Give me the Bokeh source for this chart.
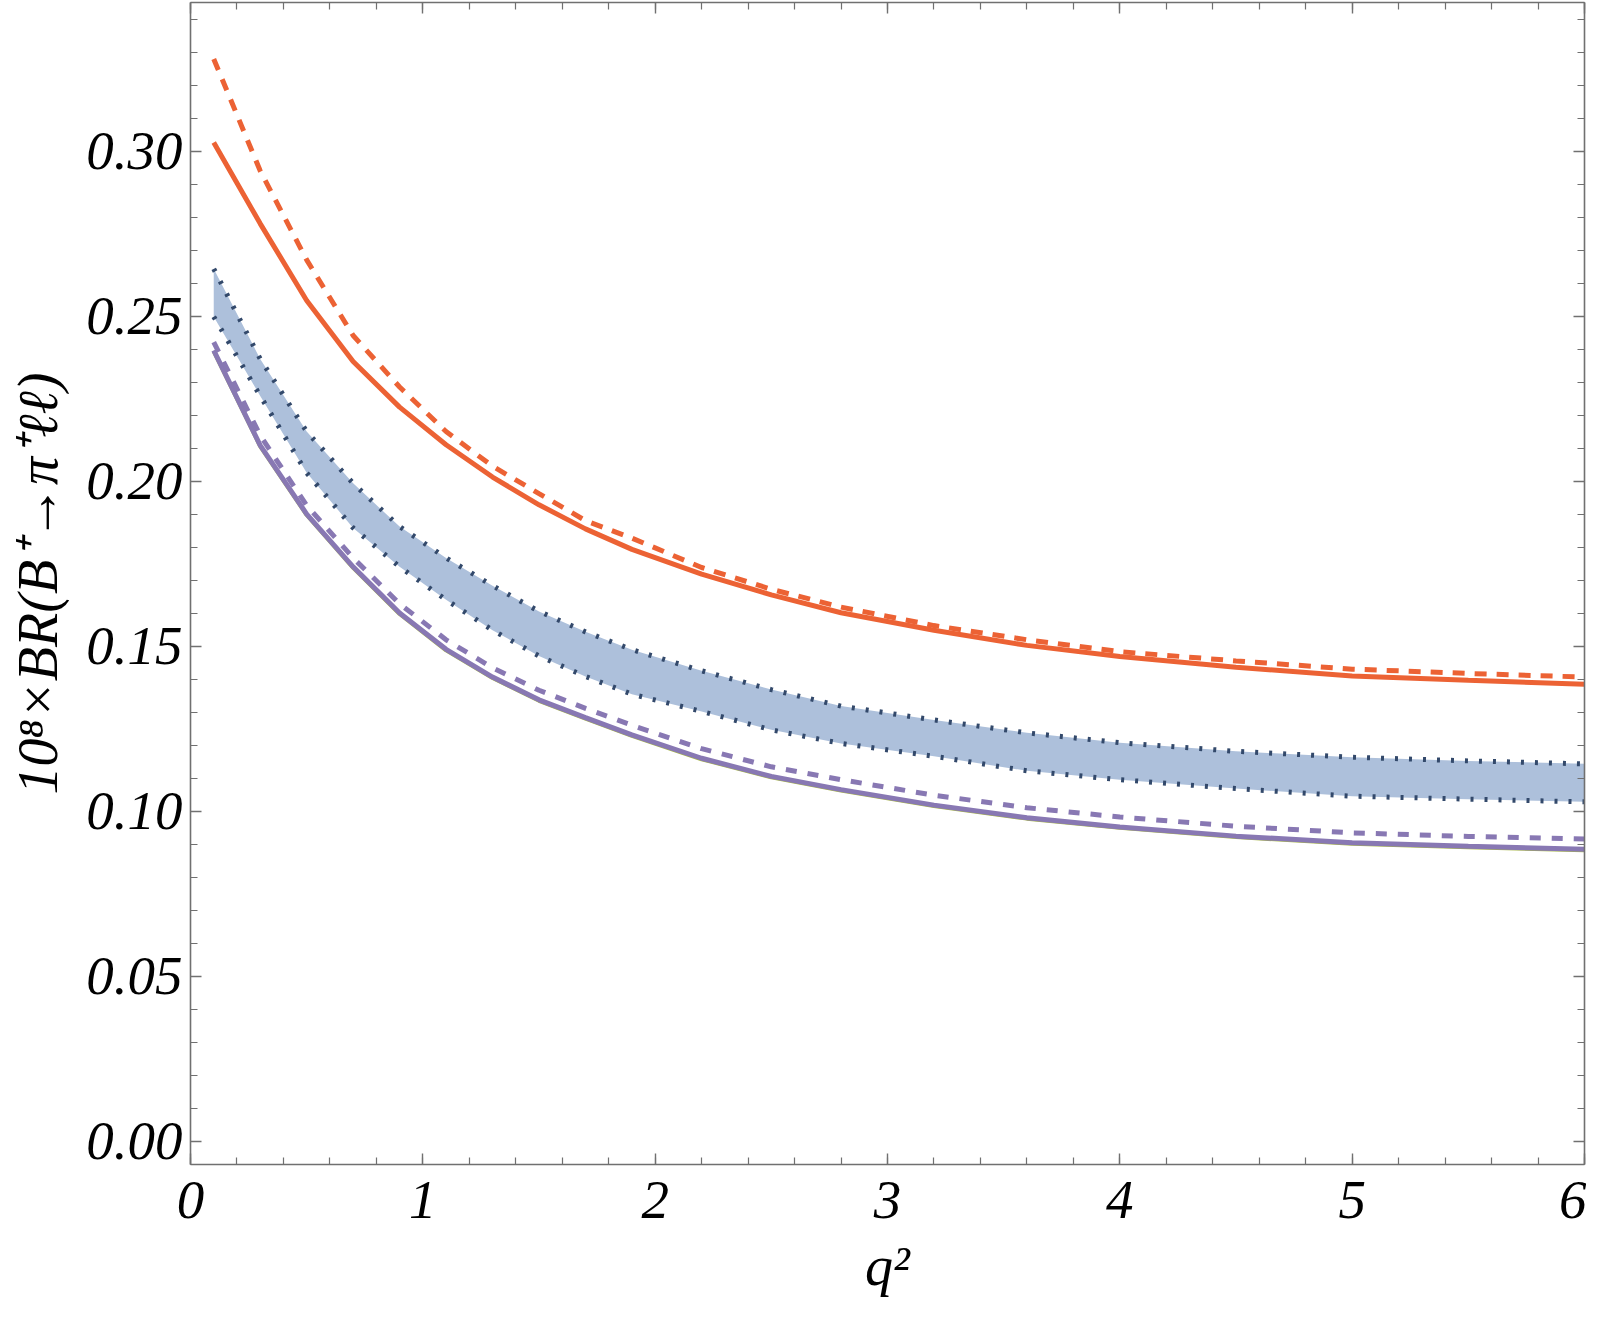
from bokeh.plotting import figure
from bokeh.models import (Range1d, FixedTicker, PrintfTickFormatter, LinearAxis,
                          CustomJSTickFormatter)
from bokeh.embed import file_html
from bokeh.resources import INLINE

# ---------------- data ----------------
q2 = [0.1, 0.3, 0.5, 0.7, 0.9, 1.1, 1.3, 1.5, 1.7, 1.9, 2.2, 2.5, 2.8, 3.2, 3.6, 4.0, 4.5, 5.0, 5.5, 6.0]

orange_solid = [0.3026, 0.2780, 0.2547, 0.2362, 0.2224, 0.2110, 0.2012, 0.1928, 0.1855, 0.1793,
                0.1718, 0.1655, 0.1601, 0.1548, 0.1502, 0.1468, 0.1436, 0.1409, 0.1396, 0.1384]
orange_dashed = [0.3279, 0.2940, 0.2670, 0.2441, 0.2285, 0.2150, 0.2045, 0.1962, 0.1880, 0.1827,
                 0.1738, 0.1672, 0.1618, 0.1562, 0.1519, 0.1483, 0.1455, 0.1430, 0.1417, 0.1406]
band_upper = [0.2643, 0.2370, 0.2150, 0.1993, 0.1862, 0.1767, 0.1683, 0.1605, 0.1543, 0.1489,
              0.1425, 0.1368, 0.1318, 0.1276, 0.1237, 0.1207, 0.1181, 0.1163, 0.1152, 0.1143]
band_lower = [0.2498, 0.2258, 0.2025, 0.1858, 0.1740, 0.1640, 0.1548, 0.1470, 0.1408, 0.1354,
              0.1302, 0.1246, 0.1205, 0.1166, 0.1122, 0.1095, 0.1068, 0.1045, 0.1036, 0.1028]
purple_solid = [0.2396, 0.2108, 0.1900, 0.1740, 0.1600, 0.1490, 0.1406, 0.1337, 0.1283, 0.1231,
                0.1160, 0.1105, 0.1065, 0.1018, 0.0980, 0.0952, 0.0924, 0.0904, 0.0893, 0.0884]
purple_dashed = [0.2421, 0.2138, 0.1926, 0.1767, 0.1628, 0.1519, 0.1434, 0.1366, 0.1311, 0.1260,
                 0.1189, 0.1134, 0.1095, 0.1048, 0.1010, 0.0982, 0.0954, 0.0934, 0.0923, 0.0915]
green_solid = [0.2393, 0.2105, 0.1897, 0.1737, 0.1597, 0.1487, 0.1403, 0.1334, 0.1280, 0.1228,
               0.1157, 0.1102, 0.1062, 0.1015, 0.0977, 0.0949, 0.0921, 0.0901, 0.0890, 0.0881]

x_ticks = [0, 1, 2, 3, 4, 5, 6]
x_minor = [i * 0.2 for i in range(0, 31)]
y_ticks = [0.00, 0.05, 0.10, 0.15, 0.20, 0.25, 0.30]
y_minor = [i * 0.01 for i in range(0, 35)]

x_title = "q\u00b2"
y_title = "10\u2078\u00d7BR(B\u207a\u2192\u03c0\u207a\u2113\u2113)"

# ---------------- colours / styles ----------------
ORANGE = "#EC6234"
PURPLE = "#8878B3"
BAND = "#ADC0DB"
DOT = "#33496B"
AXIS = "#707070"
FONT = "Liberation Serif"

p = figure(frame_width=1394, frame_height=1162, output_backend="svg", toolbar_location=None,
           x_range=Range1d(0, 6), y_range=Range1d(-0.0071, 0.345),
           min_border_left=190, min_border_right=2, min_border_top=2, min_border_bottom=2)
p.outline_line_color = None
p.xgrid.visible = False
p.ygrid.visible = False
p.background_fill_color = "white"
p.border_fill_color = "white"

# band
p.varea(x=q2, y1=band_lower, y2=band_upper, fill_color=BAND, fill_alpha=1.0)
p.line(q2, band_upper, line_color=DOT, line_width=5, line_dash="3 11")
p.line(q2, band_lower, line_color=DOT, line_width=5, line_dash="3 11")

# purple curves
p.line(q2, green_solid, line_color="#A9B84A", line_width=4)
p.line(q2, purple_solid, line_color=PURPLE, line_width=5)
p.line(q2, purple_dashed, line_color=PURPLE, line_width=5, line_dash="11 11")

# orange curves
p.line(q2, orange_solid, line_color=ORANGE, line_width=5)
p.line(q2, orange_dashed, line_color=ORANGE, line_width=5, line_dash="12 10")

xt = FixedTicker(ticks=x_ticks, minor_ticks=x_minor)
yt = FixedTicker(ticks=y_ticks, minor_ticks=y_minor)


def style_axis(ax):
    ax.axis_line_color = AXIS
    ax.axis_line_width = 1.6
    ax.major_tick_line_color = AXIS
    ax.minor_tick_line_color = AXIS
    ax.major_tick_line_width = 1.4
    ax.minor_tick_line_width = 1.2
    ax.major_tick_in = 11
    ax.major_tick_out = 0
    ax.minor_tick_in = 7
    ax.minor_tick_out = 0
    ax.major_label_text_font = FONT
    ax.major_label_text_font_style = "italic"
    ax.major_label_text_font_size = "55px"
    ax.major_label_text_color = "black"
    ax.axis_label_text_font = FONT
    ax.axis_label_text_font_style = "italic"
    ax.axis_label_text_color = "black"


xa = p.xaxis[0]
xa.ticker = xt
xa.formatter = PrintfTickFormatter(format="%d")
style_axis(xa)
xa.major_label_standoff = 17
xa.axis_label = x_title
xa.axis_label_text_font_size = "56px"
xa.axis_label_standoff = 14

ya = p.yaxis[0]
ya.ticker = yt
ya.formatter = PrintfTickFormatter(format="%.2f")
style_axis(ya)
ya.major_label_standoff = 8
ya.axis_label = y_title
ya.axis_label_text_font_size = "56px"
ya.axis_label_standoff = 14

blank = CustomJSTickFormatter(code="return '';")
top = LinearAxis(ticker=xt, formatter=blank)
style_axis(top)
top.major_label_standoff = 0
p.add_layout(top, "above")
right = LinearAxis(ticker=yt, formatter=blank)
style_axis(right)
right.major_label_standoff = 0
p.add_layout(right, "right")

open("out.html", "w").write(file_html(p, INLINE))
